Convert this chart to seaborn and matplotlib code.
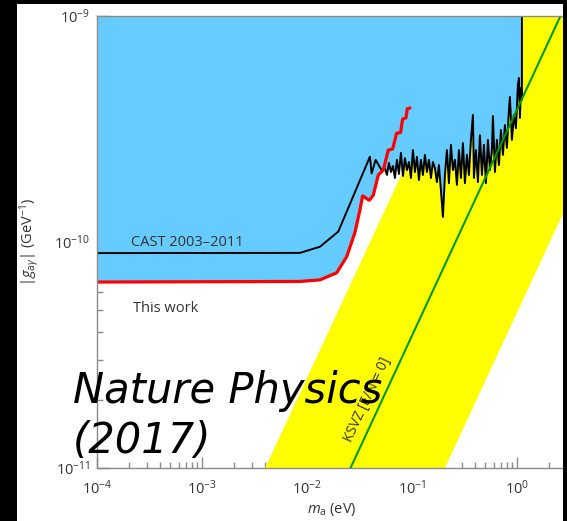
import numpy as np
import pandas as pd
import matplotlib
matplotlib.use("Agg")
import matplotlib.pyplot as plt
from matplotlib.patches import Rectangle
from matplotlib.ticker import LogLocator, NullFormatter
import seaborn as sns

# ---------------- data (m_a in eV, g in units of 1e-10 GeV^-1) ----------------
# CAST 2003-2011 exclusion line (smooth part, then the dense scan, then closing edge)
cast_m = [1e-4, 0.00857, 0.0133, 0.01986, 0.0398, 0.0413, 0.0451, 0.0514,
          0.05532, 0.05780, 0.06039, 0.06310, 0.06592, 0.06888, 0.07197, 0.07519,
          0.07856, 0.08208, 0.08577, 0.08962, 0.09363, 0.09783, 0.1022, 0.1068,
          0.1116, 0.1166, 0.1218, 0.1273, 0.1330, 0.1390, 0.1452, 0.1517,
          0.1585, 0.1656, 0.1730, 0.1807, 0.1888, 0.1973, 0.2062, 0.2154,
          0.2251, 0.2352, 0.2457, 0.2567, 0.2683, 0.2803, 0.2929, 0.3060,
          0.3197, 0.3341, 0.3490, 0.3647, 0.3811, 0.3895, 0.4069, 0.4252,
          0.4443, 0.4642, 0.4850, 0.5068, 0.5296, 0.5532, 0.5780, 0.5908,
          0.6173, 0.6450, 0.6739, 0.7041, 0.7356, 0.7686, 0.8031, 0.8391,
          0.8577, 0.8962, 0.9363, 0.9783, 1.022, 1.045, 1.068, 1.092,
          1.116, 1.116]
cast_g = [0.893, 0.895, 0.953, 1.111, 2.385, 2.01, 2.31, 2.08,
          2.12, 1.98, 2.24, 2.04, 2.17, 1.92, 2.31, 2.00,
          2.48, 1.96, 2.35, 2.08, 2.26, 1.92, 2.55, 2.04,
          2.38, 1.88, 2.31, 1.98, 2.43, 2.04, 2.31, 1.92,
          2.26, 2.12, 1.84, 2.19, 1.70, 1.29, 1.98, 2.55,
          1.82, 2.69, 2.08, 2.31, 1.79, 2.55, 1.92, 2.74,
          1.82, 2.43, 1.98, 2.83, 3.65, 1.92, 2.55, 1.84,
          2.97, 1.98, 2.69, 1.82, 2.83, 2.08, 2.55, 3.61,
          2.04, 2.83, 2.19, 3.13, 2.43, 3.29, 2.61, 3.84,
          4.38, 2.83, 3.65, 3.19, 4.95, 5.32, 3.54, 4.80,
          4.25, 10.0]

# This work (red)
work_m = [1e-4, 0.00857, 0.0133, 0.0192, 0.0239, 0.0286, 0.0320, 0.0339, 0.0392,
          0.0428, 0.0478, 0.0533, 0.0595, 0.0655, 0.0715, 0.0780, 0.0815, 0.0877,
          0.0902, 0.0957]
work_g = [0.665, 0.669, 0.680, 0.731, 0.861, 1.10, 1.39, 1.60, 1.53,
          1.61, 1.98, 2.08, 2.55, 2.58, 3.03, 3.05, 3.50, 3.54,
          3.88, 3.92]

# KSVZ [E/N = 0] line
ksvz_m = [0.026, 2.6]
ksvz_g = [0.1, 10.0]

# Yellow QCD axion band edges
band_hi_m = [0.004, 0.4]
band_hi_g = [0.1, 10.0]
band_lo_m = [0.206, 3.0]
band_lo_g = [0.1, 1.46]

x_lim = (1e-4, 3.0)
y_lim = (1e-11, 1e-9)
x_ticks = [1e-4, 1e-3, 1e-2, 1e-1, 1e0]
y_ticks = [1e-11, 1e-10, 1e-9]

# ---------------- style ----------------
sns.set_style("ticks")
plt.rcParams['font.family'] = ['Open Sans', 'DejaVu Sans']
plt.rcParams['mathtext.fontset'] = 'custom'
plt.rcParams['mathtext.rm'] = 'Open Sans'
plt.rcParams['mathtext.it'] = 'Open Sans:italic'
plt.rcParams['mathtext.bf'] = 'Open Sans:bold'

BLUE = '#66CCFF'
YELLOW = '#FFFF00'
GREEN = '#009A00'
RED = '#FF0000'
GREY = '#8a8a8a'
TXT = '#333333'

E10 = 1e-10
cast = pd.DataFrame({'m': cast_m, 'g': np.array(cast_g) * E10})
work = pd.DataFrame({'m': work_m, 'g': np.array(work_g) * E10})
ksvz = pd.DataFrame({'m': ksvz_m, 'g': np.array(ksvz_g) * E10})

fig = plt.figure(figsize=(5.67, 5.21), dpi=100)
fig.patch.set_facecolor('white')
ax = fig.add_axes([97 / 567, 1 - 468 / 521, 470 / 567, 452 / 521])
ax.set_xscale('log')
ax.set_yscale('log')
ax.set_xlim(*x_lim)
ax.set_ylim(*y_lim)

# yellow band
band_x = [band_hi_m[0], band_hi_m[1], x_lim[1], band_lo_m[1], band_lo_m[0]]
band_y = [band_hi_g[0] * E10, band_hi_g[1] * E10, y_lim[1], band_lo_g[1] * E10, band_lo_g[0] * E10]
ax.fill(band_x, band_y, color=YELLOW, lw=0, zorder=1)

# blue excluded region
ax.fill_between(cast['m'], cast['g'], y_lim[1], color=BLUE, lw=0, zorder=2)
ax.fill_between(work['m'], work['g'], y_lim[1], color=BLUE, lw=0, zorder=2)

sns.lineplot(data=cast, x='m', y='g', ax=ax, color='black', lw=1.4,
             estimator=None, sort=False, zorder=3)
sns.lineplot(data=ksvz, x='m', y='g', ax=ax, color=GREEN, lw=1.5,
             estimator=None, sort=False, zorder=4)
sns.lineplot(data=work, x='m', y='g', ax=ax, color=RED, lw=2.3,
             estimator=None, sort=False, zorder=5)

ax.set_xlim(*x_lim)
ax.set_ylim(*y_lim)

# axes styling
for s in ['left', 'bottom', 'top']:
    ax.spines[s].set_color(GREY)
    ax.spines[s].set_linewidth(1.0)
    ax.spines[s].set_zorder(6)
ax.spines['right'].set_visible(False)
ax.set_xticks(x_ticks)
ax.set_yticks(y_ticks)
ax.xaxis.set_minor_locator(LogLocator(base=10, subs=np.arange(2, 10)))
ax.yaxis.set_minor_locator(LogLocator(base=10, subs=np.arange(2, 10)))
ax.xaxis.set_minor_formatter(NullFormatter())
ax.yaxis.set_minor_formatter(NullFormatter())
ax.tick_params(which='both', direction='in', color=GREY, labelcolor=TXT,
               top=False, right=False, labelsize=10.5)
ax.tick_params(axis='x', which='major', length=8, width=1, pad=8)
ax.tick_params(axis='x', which='minor', length=4.5, width=1)
ax.tick_params(axis='y', which='major', length=9, width=1, pad=5)
ax.tick_params(axis='y', which='minor', length=4.5, width=1)

ax.set_xlabel(r'$m_{\mathrm{a}}$ (eV)', fontsize=10.5, color=TXT)
ax.set_ylabel(r'$|g_{\mathrm{a}\gamma}|$ (GeV$^{-1}$)', fontsize=10.5, color=TXT)
ax.xaxis.set_label_coords(0.5, -0.072)
ax.yaxis.set_label_coords(-0.118, 0.5)

# annotations
ax.text(2.1e-4, 1.0e-10, 'CAST 2003\u20132011', fontsize=10.5, color=TXT,
        va='center', ha='left', zorder=7)
ax.text(2.2e-4, 5.06e-11, 'This work', fontsize=10.5, color=TXT,
        va='center', ha='left', zorder=7)
ax.text(0.038, 2.0e-11, 'KSVZ [E/N = 0]', fontsize=10, color=TXT,
        rotation=65, ha='center', va='center', rotation_mode='anchor', zorder=7)

# overlay caption
for txt, ypx in [('Nature Physics', 403), ('(2017)', 453)]:
    fig.text(73 / 567, 1 - ypx / 521, txt, fontsize=30, style='oblique',
             family='DejaVu Sans', color='black', ha='left', va='baseline', zorder=20)

# black frame strips (screenshot border)
fig.add_artist(Rectangle((0, 0), 17 / 567, 1, transform=fig.transFigure,
                         color='black', lw=0, zorder=30))
fig.add_artist(Rectangle((0, 1 - 3.5 / 521), 1, 3.5 / 521, transform=fig.transFigure,
                         color='black', lw=0, zorder=30))
fig.add_artist(Rectangle((563 / 567, 0), 4 / 567, 1, transform=fig.transFigure,
                         color='black', lw=0, zorder=30))

fig.savefig('out.png', dpi=100)
